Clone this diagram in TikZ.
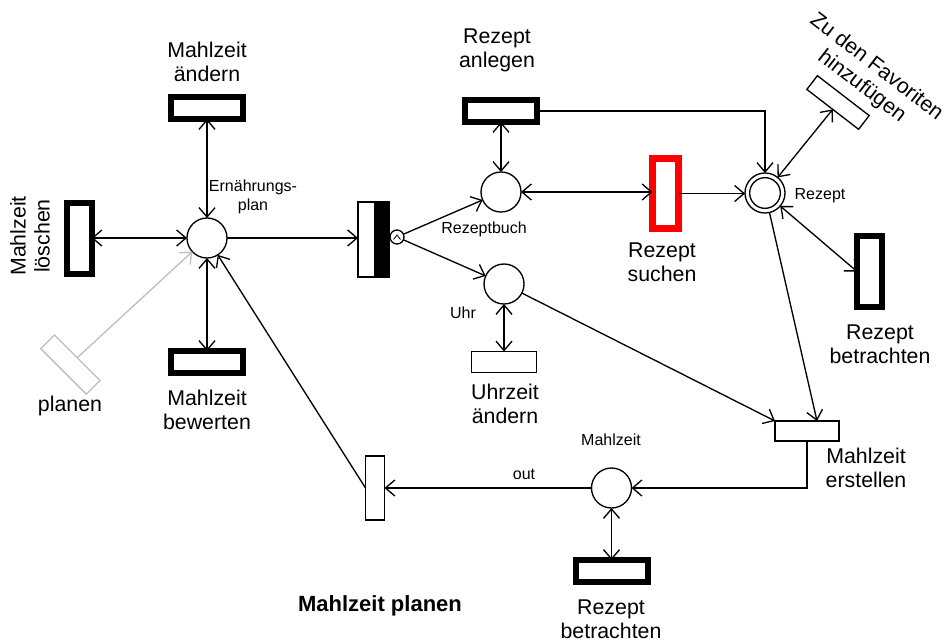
\documentclass[tikz,border=0pt]{standalone}
\usepackage{fontspec}
\setmainfont{Liberation Sans}
\usetikzlibrary{arrows.meta,calc}

\begin{document}
\begin{tikzpicture}[x=0.75pt,y=-0.75pt,
  every node/.style={inner sep=0pt, outer sep=0pt},
  >={Straight Barb[length=7pt,width=12pt]},
  net/.style={line width=1pt},
  place/.style={circle, draw, line width=1pt, minimum size=30pt, fill=white},
  thicktrans/.style={rectangle, draw, line width=4.5pt, fill=white},
  thintrans/.style={rectangle, draw, line width=1pt, fill=white},
  lbl/.style={font=\fontsize{16}{18}\selectfont, align=center},
  small/.style={font=\fontsize{12}{14}\selectfont, align=center},
  faded/.style={draw=black!25}]

\useasboundingbox (0,0) rectangle (944,642);

% places
\node[place] (Pplan) at (207,238) {};
\node[place] (Pbuch) at (501,192) {};
\node[place] (Prezept) at (765,193) {};
\draw[net] (Prezept.center) circle[radius=11.5pt];
\node[place] (Puhr) at (504,284) {};
\node[place] (Pmahlzeit) at (611.5,488) {};

% transitions
\node[thicktrans, minimum width=54pt, minimum height=16.5pt] (Taendern) at (207,108) {};
\node[thicktrans, minimum width=18.75pt, minimum height=53.25pt] (Tloeschen) at (79,238) {};
\node[thicktrans, minimum width=54pt, minimum height=16.5pt] (Tbewerten) at (207,362) {};
\node[thintrans, faded, rotate=-45, minimum width=48.3pt, minimum height=14.5pt] (Tplanen) at (70.4,364.6) {};
\node[thintrans, minimum width=23.25pt, minimum height=56.25pt] (Tcentre) at (373.5,239.5) {};
\fill (Tcentre.north) rectangle (Tcentre.south east);
\draw[net] (Tcentre.north west) rectangle (Tcentre.south east);
\node[circle, draw, net, fill=white, minimum size=10.5pt] (Tgate) at (397,237) {};
\draw[line width=0.6pt] ($(Tgate.center)+(-3.5,2.5)$) -- ($(Tgate.center)+(0,-2)$) -- ($(Tgate.center)+(3.5,2.5)$);
\node[thicktrans, minimum width=54pt, minimum height=16.5pt] (Tanlegen) at (501,111) {};
\node[thicktrans, draw=red, line width=5.25pt, minimum width=19.5pt, minimum height=52.5pt] (Tsuchen) at (665.5,193.5) {};
\node[thintrans, rotate=-37.6, minimum width=49pt, minimum height=13pt] (Tfav) at (838,102.5) {};
\node[thicktrans, minimum width=18.75pt, minimum height=53.25pt] (Tbetr1) at (869.5,271.5) {};
\node[thintrans, minimum width=48pt, minimum height=15pt] (Terstellen) at (807,431) {};
\node[thintrans, minimum width=48.75pt, minimum height=15.75pt] (Tuhrzeit) at (504,362) {};
\node[thintrans, minimum width=14.25pt, minimum height=48pt] (Tout) at (375,488) {};
\node[thicktrans, minimum width=54pt, minimum height=16.5pt] (Tbetr2) at (611.5,571) {};

% arcs
\draw[net,<->] (Taendern.south) -- (Pplan.north);
\draw[net,<->] (Tloeschen.east) -- (Pplan.west);
\draw[net,<->] (Pplan.south) -- (Tbewerten.north);
\draw[net,->,faded] (Tplanen.north) -- (Pplan);
\draw[net,->] (Pplan.east) -- (Pplan.east -| Tcentre.west);
\draw[net,->] (Tgate) -- (Pbuch);
\draw[net,->] (Tgate) -- (Puhr);
\draw[net,<->] (Tanlegen.south) -- (Pbuch.north);
\draw[net,->] (Tanlegen.east) -| (Prezept.north);
\draw[net,<->] (Pbuch.east) -- (Pbuch.east -| Tsuchen.west);
\draw[net,->] (Tsuchen.east) -- (Tsuchen.east -| Prezept.west);
\draw[net,<->] (Prezept) -- (Tfav.south);
\draw[net,<->] (Prezept) -- (Tbetr1.west);
\coordinate (Ein) at ($(Terstellen.north)+(10,0)$);
\draw[net,->] (Prezept) -- (Ein);
\draw[net,->] (Puhr) -- (Terstellen.north west);
\draw[net,<->] (Puhr.south) -- (Tuhrzeit.north);
\draw[net,->] (Terstellen.south) |- (Pmahlzeit.east);
\draw[net,->] (Pmahlzeit.west) -- (Tout.east);
\draw[net,->] (Tout.west) -- (Pplan);
\draw[net,<->] (Pmahlzeit.south) -- (Tbetr2.north);

% transition labels
\node[lbl] (Laendern) at (207,62) {Mahlzeit\\ändern};
\node[lbl, rotate=90] (Lloeschen) at (30,236) {Mahlzeit\\löschen};
\node[lbl] (Lbewerten) at (207,410) {Mahlzeit\\bewerten};
\node[lbl] (Lplanen) at (70,406) {planen};
\node[lbl] (Lanlegen) at (497,50) {Rezept\\anlegen};
\node[lbl] (Lsuchen) at (662,262) {Rezept\\suchen};
\node[lbl] (Lbetr1) at (880,344) {Rezept\\betrachten};
\node[lbl] (Luhrzeit) at (505,404) {Uhrzeit\\ändern};
\node[lbl] (Lerstellen) at (866,468) {Mahlzeit\\erstellen};
\node[lbl] (Lbetr2) at (611,619) {Rezept\\betrachten};
\node[lbl, rotate=-37.6] (Lfav) at (869,77) {Zu den Favoriten\\hinzufügen};

% place and arc labels
\node[small] (Lplan) at (253,197) {Ernährungs-\\plan};
\node[small] (Lbuch) at (484,229) {Rezeptbuch};
\node[small] (Lrezept) at (820,196) {Rezept};
\node[small] (Luhr) at (463,313) {Uhr};
\node[small] (Lmahlzeit) at (611,440) {Mahlzeit};
\node[small] (Lout) at (524,474) {out};

% title
\node[font=\fontsize{16.5}{20}\selectfont\bfseries] (Title) at (380,606) {Mahlzeit planen};
\end{tikzpicture}
\end{document}
